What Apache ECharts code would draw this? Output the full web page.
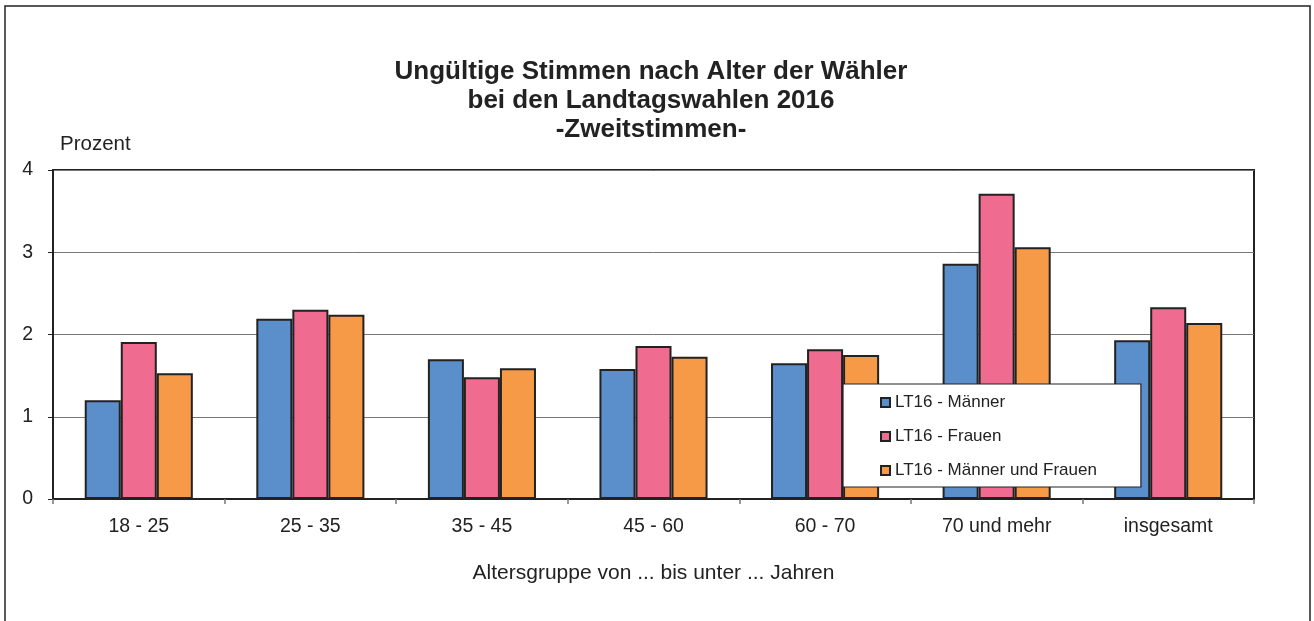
<!DOCTYPE html>
<html>
<head>
<meta charset="utf-8">
<script src="https://cdn.jsdelivr.net/npm/echarts@6/dist/echarts.min.js"></script>
<style>html,body{margin:0;padding:0;background:#fff}#c{width:1314px;height:621px}</style>
</head>
<body>
<div id="c"></div>
<script>
const categories = ['18 - 25', '25 - 35', '35 - 45', '45 - 60', '60 - 70', '70 und mehr', 'insgesamt'];
const maenner = [1.20, 2.19, 1.70, 1.58, 1.65, 2.86, 1.93];
const frauen = [1.91, 2.30, 1.48, 1.86, 1.82, 3.71, 2.33];
const gesamt = [1.53, 2.24, 1.59, 1.73, 1.75, 3.06, 2.14];
const seriesNames = ['LT16 - Männer', 'LT16 - Frauen', 'LT16 - Männer und Frauen'];
const colors = ['#5A8FCC', '#EF6B90', '#F79A48'];
const yTicks = [0, 1, 2, 3, 4];

const chart = echarts.init(document.getElementById('c'), null, {renderer: 'canvas'});
const font = 'Liberation Sans, Arial, sans-serif';
const mk = (name, data, color) => ({
  name, type: 'bar', data,
  barGap: '0%', barCategoryGap: '37%',
  itemStyle: {color, borderColor: '#222', borderWidth: 2},
  z: 3
});
chart.setOption({
  animation: false,
  textStyle: {fontFamily: font},
  title: {
    text: 'Ungültige Stimmen nach Alter der Wähler\nbei den Landtagswahlen 2016\n-Zweitstimmen-',
    left: 646, textAlign: 'center', top: 52,
    textStyle: {fontSize: 26, fontWeight: 'bold', color: '#222', lineHeight: 29, fontFamily: font}
  },
  graphic: [{
    type: 'rect', shape: {x: 5, y: 6, width: 1305, height: 700},
    style: {fill: 'none', stroke: '#222', lineWidth: 1.5}, silent: true, z: -1
  }],
  legend: {
    orient: 'vertical', left: 843, top: 384,
    data: seriesNames,
    icon: 'rect', itemWidth: 9, itemHeight: 9, itemGap: 17,
    padding: [10, 44, 8, 37],
    backgroundColor: '#fff', borderColor: '#222', borderWidth: 1.2,
    textStyle: {fontSize: 17, color: '#222', fontFamily: font},
    itemStyle: {borderColor: '#222', borderWidth: 2},
    z: 10
  },
  grid: {left: 53, right: 60, top: 170, bottom: 122, show: true, borderColor: '#222', borderWidth: 2, backgroundColor: 'transparent'},
  xAxis: {
    type: 'category', data: categories,
    axisLine: {lineStyle: {color: '#222', width: 2}},
    axisTick: {show: true, length: 5, lineStyle: {color: '#777', width: 1.5}},
    axisLabel: {fontSize: 19.5, color: '#222', margin: 18, fontFamily: font},
    name: 'Altersgruppe von ... bis unter ... Jahren',
    nameLocation: 'middle', nameGap: 64,
    nameTextStyle: {fontSize: 21, color: '#222', fontFamily: font}
  },
  yAxis: {
    type: 'value', min: yTicks[0], max: yTicks[yTicks.length - 1], interval: 1,
    axisLine: {show: true, lineStyle: {color: '#222', width: 2}},
    axisTick: {show: true, length: 5, lineStyle: {color: '#222', width: 1}},
    axisLabel: {fontSize: 19.5, color: '#222', margin: 20, fontFamily: font},
    splitLine: {lineStyle: {color: '#777', width: 1}},
    name: 'Prozent', nameLocation: 'end', nameGap: 15,
    nameTextStyle: {fontSize: 20.5, color: '#222', align: 'left', padding: [0, 0, 0, 7], fontFamily: font}
  },
  series: [
    mk(seriesNames[0], maenner, colors[0]),
    mk(seriesNames[1], frauen, colors[1]),
    mk(seriesNames[2], gesamt, colors[2])
  ]
});
</script>
</body>
</html>
